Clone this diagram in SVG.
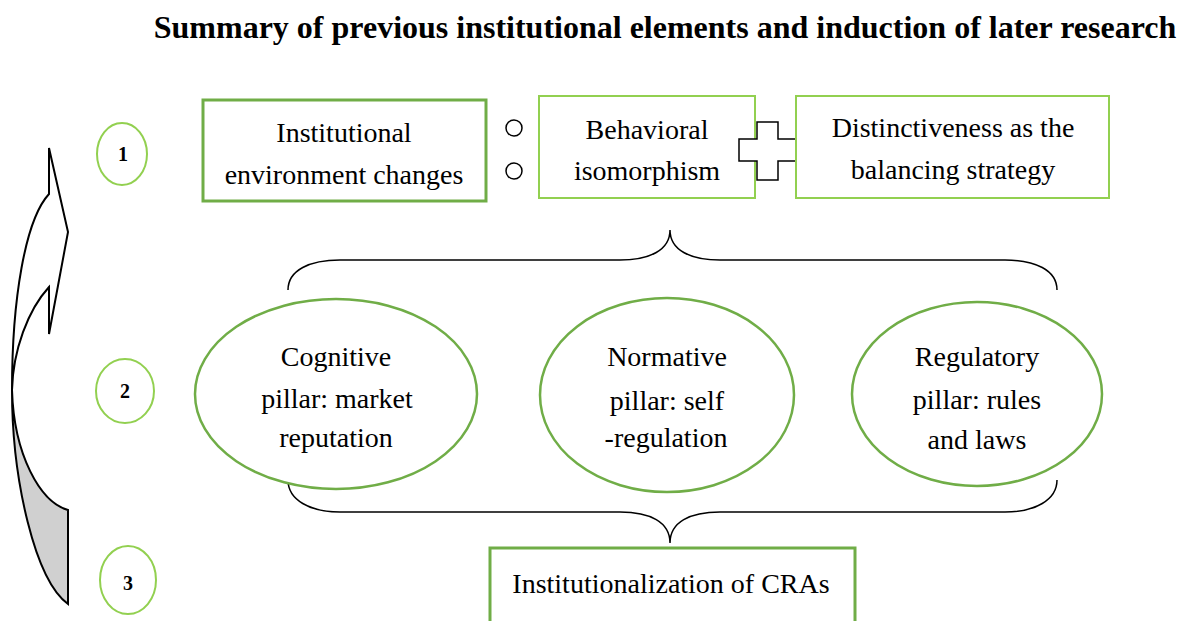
<svg xmlns="http://www.w3.org/2000/svg" width="1185" height="621" viewBox="0 0 1185 621">
<style>
.t{font-family:"Liberation Serif","Times New Roman",serif;font-size:28px;fill:#000;text-anchor:middle}
.n{font-family:"Liberation Serif","Times New Roman",serif;font-size:20px;font-weight:bold;fill:#000;text-anchor:middle}
.dk{fill:#fff;stroke:#70AD47;stroke-width:3}
.lt{fill:#fff;stroke:#92D050;stroke-width:2}
.el{fill:#fff;stroke:#70AD47;stroke-width:2.5}
.br{fill:none;stroke:#000;stroke-width:1.5}
</style>
<rect width="1185" height="621" fill="#fff"/>
<text x="665" y="38" font-family="Liberation Serif,Times New Roman,serif" font-size="32" font-weight="bold" text-anchor="middle">Summary of previous institutional elements and induction of later research</text>
<g id="arrow">
<path d="M12 390 C12 480 35 580 68 604 L68 510 C40 502 14 455 12 390 Z" fill="#d0d0d0" stroke="#000" stroke-width="2"/>
<path d="M12 390 C12 300 25 220 49 194 L49 148 L68 232 L49 334 L49 287 C28 310 13 350 12 390 Z" fill="#fff" stroke="#000" stroke-width="2"/>
</g>
<g id="num1"><ellipse cx="122" cy="154" rx="25" ry="31" class="lt"/><text x="123" y="161" class="n">1</text></g>
<g id="num2"><ellipse cx="125" cy="391" rx="29" ry="32" class="lt"/><text x="125" y="398" class="n">2</text></g>
<g id="num3"><ellipse cx="128" cy="580" rx="28" ry="34" class="lt"/><text x="128" y="590" class="n">3</text></g>
<g id="box1"><rect x="203" y="100" width="283" height="101" class="dk"/><text x="344" y="142" class="t">Institutional</text><text x="344" y="184" class="t">environment changes</text></g>
<g id="dots"><circle cx="514" cy="128" r="8" fill="#fff" stroke="#000" stroke-width="1.5"/><circle cx="514" cy="171" r="8" fill="#fff" stroke="#000" stroke-width="1.5"/></g>
<g id="box2"><rect x="539" y="96" width="216" height="102" class="lt"/><text x="647" y="139" class="t">Behavioral</text><text x="647" y="180" class="t">isomorphism</text></g>
<g id="plus"><path d="M757 122 H778 V139 H796 V161 H778 V180 H757 V161 H739 V139 H757 Z" fill="#fff" stroke="#000" stroke-width="1.5"/></g>
<g id="box3"><rect x="796" y="96" width="313" height="102" class="lt"/><text x="953" y="137" class="t">Distinctiveness as the</text><text x="953" y="179" class="t">balancing strategy</text></g>
<g id="connectors">
<path class="br" d="M288 290 C288 270 310 260 340 260 L620 260 C650 260 670 250 670 230 C670 250 690 260 720 260 L1005 260 C1035 260 1057 270 1057 290"/>
<path class="br" d="M288 480 C288 500 310 512 340 512 L620 512 C650 512 670 522 670 543 C670 522 690 512 720 512 L1005 512 C1035 512 1057 500 1057 480"/>
</g>
<g id="ell1"><ellipse cx="336" cy="394" rx="141" ry="95" class="el"/><text x="336" y="366" class="t">Cognitive</text><text x="337" y="408" class="t">pillar: market</text><text x="336" y="447" class="t">reputation</text></g>
<g id="ell2"><ellipse cx="667" cy="395" rx="127" ry="97" class="el"/><text x="667" y="366" class="t">Normative</text><text x="667" y="410" class="t">pillar: self</text><text x="666" y="447" class="t">-regulation</text></g>
<g id="ell3"><ellipse cx="977" cy="394" rx="125" ry="92" class="el"/><text x="977" y="366" class="t">Regulatory</text><text x="977" y="409" class="t">pillar: rules</text><text x="977" y="449" class="t">and laws</text></g>
<g id="box4"><rect x="490" y="548" width="365" height="80" class="dk"/><text x="671" y="593" class="t">Institutionalization of CRAs</text></g>
</svg>
